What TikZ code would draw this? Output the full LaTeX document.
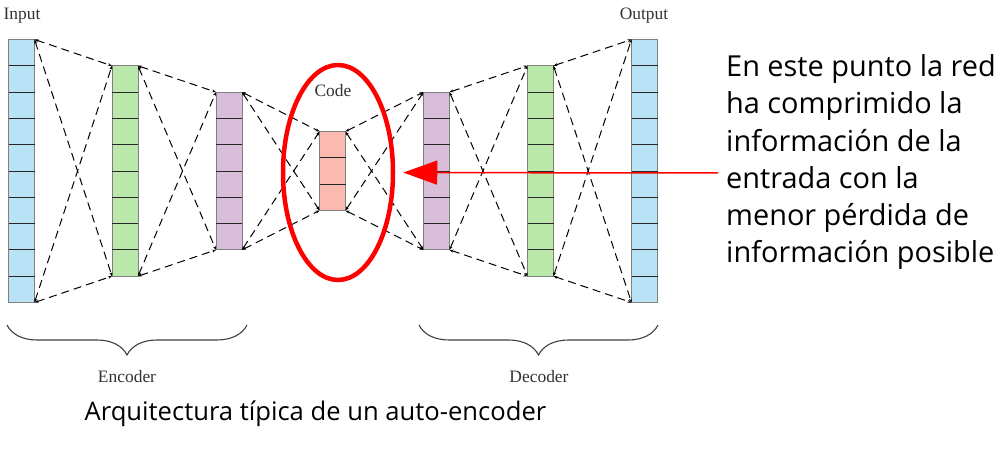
\documentclass[tikz,border=0pt]{standalone}
\usepackage{fontspec}
\newfontfamily\notefont{Open Sans}
\newfontfamily\tagfont{Liberation Serif}
\usetikzlibrary{arrows.meta,decorations.pathreplacing,shapes.geometric}

\newcommand*{\cellH}{26.3}
\newcommand*{\cellW}{26}
\newcommand*{\yMid}{171}

\definecolor{inBlue}{RGB}{186,226,246}
\definecolor{encGreen}{RGB}{186,232,170}
\definecolor{midPurple}{RGB}{216,190,216}
\definecolor{codePink}{RGB}{250,186,176}
\definecolor{labGray}{RGB}{50,50,50}

\tikzset{
	layer/.style={draw=black!50, line width=0.8bp, outer sep=0pt, inner sep=0pt,
		minimum width=\cellW bp, minimum height=#1*\cellH bp},
	cellline/.style={black!85, line width=0.9bp},
	link/.style={dash pattern=on 8bp off 5bp, line width=1bp,
		{Stealth[length=4bp,width=3bp]}-{Stealth[length=4bp,width=3bp]}},
	tag/.style={text=labGray, font=\tagfont\fontsize{17.5}{20}\selectfont, inner sep=0pt, anchor=base},
	bracket/.style={decorate, decoration={brace, mirror, amplitude=30bp}, draw=black!75, line width=1.1bp},
	focus/.style={ellipse, draw=red, line width=4.5bp, minimum width=110bp, minimum height=215bp, inner sep=0pt},
	pointer/.style={red, line width=1.5bp, -{Triangle[length=34bp,width=24bp]}, shorten >=8bp}
}

\begin{document}
\begin{tikzpicture}[x=1bp,y=-1bp]
	\useasboundingbox (0,0) rectangle (1007,452);
	
	% layers of the net
	\foreach \name/\x/\n/\col in {in/21.5/10/inBlue, enc1/125/8/encGreen, enc2/229/6/midPurple, code/332.5/3/codePink,
		dec1/436.5/6/midPurple, dec2/540.5/8/encGreen, out/644.5/10/inBlue} {
		\node [layer=\n, fill=\col] (\name) at (\x,\yMid) {};
		\pgfmathtruncatemacro\m{\n-1}
		\foreach \k in {1,...,\m} {
			\draw [cellline] (\x-13,\yMid-\n*\cellH/2+\k*\cellH) -- +(26,0);
		}
	}
	
	\foreach \a/\b in {in/enc1, enc1/enc2, enc2/code, code/dec1, dec1/dec2, dec2/out} {
		\draw [link] (\a.north east) -- (\b.north west);
		\draw [link] (\a.north east) -- (\b.south west);
		\draw [link] (\a.south east) -- (\b.north west);
		\draw [link] (\a.south east) -- (\b.south west);
	}
	
	\node [tag] (inLab) at (22,20) {Input};
	\node [tag] (outLab) at (644,20) {Output};
	\node [tag] (codeLab) at (333,97) {Code};
	
	%\draw [step=10,gray,very thin] (0,0) grid (1007,452);
	
	\draw [bracket] (7,325) -- (247,325);
	\draw [bracket] (419,325) -- (658,325);
	\node [tag] (encLab) at (127,383) {Encoder};
	\node [tag] (decLab) at (539,383) {Decoder};
	
	\node [focus] (ring) at (338,172.5) {};
	\coordinate (tail) at (718,173);
	\draw [pointer] (tail) -- (ring);
	
	\node [anchor=base west, align=left, inner sep=0pt, font=\notefont\fontsize{29}{37.4}\selectfont] (note) at (726,263)
		{En este punto la red\\ha comprimido la\\información de la\\entrada con la\\menor pérdida de\\información posible};
	\node [anchor=base, inner sep=0pt, font=\notefont\fontsize{25.7}{30}\selectfont] (title) at (315.5,420)
		{Arquitectura típica de un auto-encoder};
\end{tikzpicture}
\end{document}
